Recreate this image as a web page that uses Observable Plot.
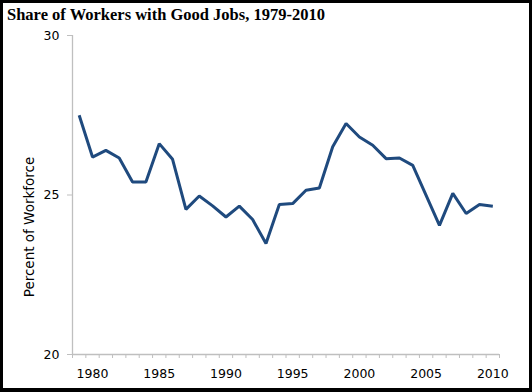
<!DOCTYPE html>
<html>
<head>
<meta charset="utf-8">
<script src="https://cdn.jsdelivr.net/npm/d3@7"></script>
<script src="https://cdn.jsdelivr.net/npm/@observablehq/plot@0.6"></script>
<style>
  html, body { margin: 0; padding: 0; background: #fff; }
  #wrap { position: relative; width: 532px; height: 392px; overflow: hidden; background: #fff; }
  #title { position: absolute; left: 7px; top: 5px; font-family: "Liberation Serif", "Times New Roman", serif; font-weight: bold; font-size: 16.5px; color: #000; white-space: nowrap; z-index: 2; }
  #chart { position: absolute; left: 0; top: 0; }
  #border { position: absolute; left: 0; top: 0; width: 532px; height: 392px; box-sizing: border-box; border: 3px solid #000; border-bottom-width: 4px; pointer-events: none; z-index: 3; }
</style>
</head>
<body>
<div id="wrap">
  <div id="title">Share of Workers with Good Jobs, 1979-2010</div>
  <div id="chart"></div>
  <div id="border"></div>
</div>
<script>
const years = [1979,1980,1981,1982,1983,1984,1985,1986,1987,1988,1989,1990,1991,1992,1993,1994,1995,1996,1997,1998,1999,2000,2001,2002,2003,2004,2005,2006,2007,2008,2009,2010];
const shares = [27.50,26.19,26.40,26.16,25.41,25.41,26.61,26.12,24.55,24.97,24.66,24.31,24.65,24.23,23.48,24.70,24.73,25.15,25.22,26.51,27.24,26.82,26.56,26.14,26.16,25.93,24.99,24.05,25.05,24.42,24.70,24.65];
const xTickLabels = [1980,1985,1990,1995,2000,2005,2010];
const yTicks = [20,25,30];
const yLabel = "Percent of Workforce";

const data = years.map((y, i) => ({year: y, share: shares[i]}));
const boundaries = years.map(y => y - 0.5).concat([years[years.length - 1] + 0.5]);
const axisColor = "#bfbfbf";
const lineColor = "#1f4a7e";
const font = "'DejaVu Sans', Verdana, sans-serif";

const chart = Plot.plot({
  width: 532,
  height: 392,
  marginLeft: 72,
  marginRight: 33,
  marginTop: 35,
  marginBottom: 38,
  style: {fontFamily: font, fontSize: "12.5px", color: "#000", background: "transparent"},
  x: {domain: [years[0] - 0.5, years[years.length - 1] + 0.5]},
  y: {domain: [20, 30]},
  marks: [
    Plot.ruleX([years[0] - 0.5], {stroke: axisColor, strokeWidth: 1.3}),
    Plot.ruleY([20], {stroke: axisColor, strokeWidth: 1.3}),
    Plot.axisY(yTicks, {tickSize: 5, tickPadding: 8, stroke: axisColor, fill: "#000", fontSize: 12.5, label: null, tickFormat: d => String(d)}),
    Plot.axisX(boundaries, {tickSize: 4, stroke: axisColor, text: null, label: null}),
    Plot.axisX(xTickLabels, {tickSize: 0, tickPadding: 15, fill: "#000", fontSize: 12.5, label: null, tickFormat: d => String(d)}),
    Plot.text([yLabel], {frameAnchor: "left", textAnchor: "middle", rotate: -90, dx: -43, dy: 32, fill: "#000", fontSize: 13.5}),
    Plot.line(data, {x: "year", y: "share", stroke: lineColor, strokeWidth: 3, strokeLinejoin: "miter", strokeLinecap: "butt"})
  ]
});
document.getElementById("chart").appendChild(chart);
</script>
</body>
</html>
